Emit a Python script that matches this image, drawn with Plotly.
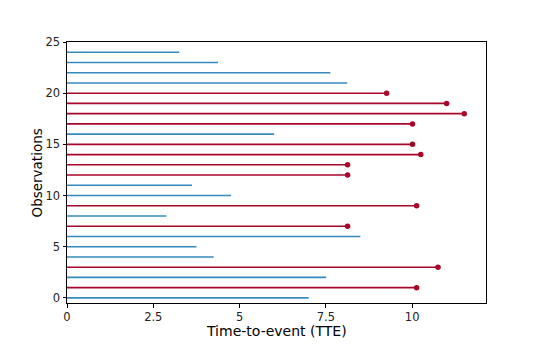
import plotly.graph_objects as go

# time-to-event per observation and whether the event was observed
tte = [7.0, 10.13, 7.51, 10.75, 4.25, 3.75, 8.50, 8.13, 2.88, 10.13,
       4.75, 3.62, 8.13, 8.13, 10.25, 10.01, 6.0, 10.01, 11.51, 11.0,
       9.26, 8.12, 7.63, 4.38, 3.25]
event = [0, 1, 0, 1, 0, 0, 0, 1, 0, 1,
         0, 0, 1, 1, 1, 1, 0, 1, 1, 1,
         1, 0, 0, 0, 0]
obs = list(range(len(tte)))

xticks = [0, 2.5, 5, 7.5, 10]
xticklabels = ["0", "2.5", "5", "7.5", "10"]
yticks = [0, 5, 10, 15, 20, 25]

BLUE = "#348ABD"
RED = "#A60628"


def segs(flag):
    xs, ys = [], []
    for i, t, e in zip(obs, tte, event):
        if e == flag:
            xs += [0, t, None]
            ys += [i, i, None]
    return xs, ys


fig = go.Figure()
bx, by = segs(0)
fig.add_trace(go.Scatter(x=bx, y=by, mode="lines", line=dict(color=BLUE, width=1.6)))
rx, ry = segs(1)
fig.add_trace(go.Scatter(x=rx, y=ry, mode="lines", line=dict(color=RED, width=1.6)))
fig.add_trace(go.Scatter(
    x=[t for t, e in zip(tte, event) if e],
    y=[i for i, e in zip(obs, event) if e],
    mode="markers", marker=dict(color=RED, size=5.5),
))

axis_common = dict(
    showgrid=False, zeroline=False, showline=True, linecolor="black",
    linewidth=1, mirror=True, ticks="outside", ticklen=3.5, tickcolor="black",
    automargin=False,
    tickfont=dict(family="DejaVu Sans", size=11.5, color="#222"),
)
fig.update_xaxes(range=[0, 12.14], tickvals=xticks, ticktext=xticklabels, **axis_common)
fig.update_yaxes(range=[-0.5, 25], tickvals=yticks, **axis_common)

# axis titles placed by hand
fig.add_annotation(text="Time-to-event (TTE)", xref="paper", yref="paper",
                   x=0.5, y=-0.107, xanchor="center", yanchor="middle", showarrow=False,
                   font=dict(family="DejaVu Sans", size=14, color="black"))
fig.add_annotation(text="Observations", xref="paper", yref="paper",
                   x=-0.0716, y=0.5, xanchor="center", yanchor="middle", showarrow=False,
                   textangle=-90, font=dict(family="DejaVu Sans", size=13.5, color="black"))

fig.update_layout(
    width=540, height=347, showlegend=False,
    plot_bgcolor="white", paper_bgcolor="white",
    margin=dict(l=67, r=54, t=42, b=44),
)
# drop the page's default body margin so the figure sits at the top-left corner
fig.write_html("out.html", config={"displayModeBar": False},
               post_script="document.body.style.margin='0';")
